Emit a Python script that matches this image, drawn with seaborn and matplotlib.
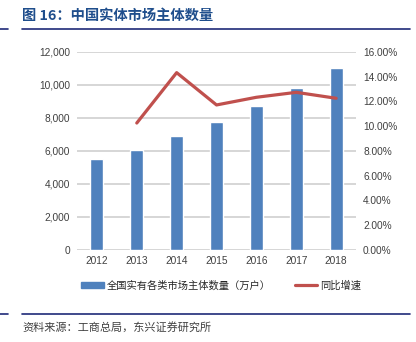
import matplotlib
matplotlib.use("Agg")
import matplotlib.pyplot as plt
import seaborn as sns
import numpy as np
import pandas as pd
from matplotlib.lines import Line2D
from matplotlib.ticker import FuncFormatter, MultipleLocator

years = ["2012", "2013", "2014", "2015", "2016", "2017", "2018"]
entities = [5500, 6060, 6930, 7750, 8700, 9800, 11000]
growth_years = ["2013", "2014", "2015", "2016", "2017", "2018"]
growth = [10.26, 14.33, 11.72, 12.34, 12.74, 12.26]

bar_label = "全国实有各类市场主体数量（万户）"
line_label = "同比增速"
title = "图 16：中国实体市场主体数量"
source = "资料来源：工商总局，东兴证券研究所"

sns.set_theme(style="white")
plt.rcParams['font.family'] = ['Liberation Sans', 'Noto Sans CJK SC', 'DejaVu Sans']

fig = plt.figure(figsize=(4.16, 3.42), dpi=100)
ax = fig.add_axes([0.185, 0.269, 0.671, 0.579])

df = pd.DataFrame({"year": years, "value": entities})
sns.barplot(data=df, x="year", y="value", ax=ax, color="#4F81BD",
            saturation=1, width=0.33, label=bar_label)

ax2 = ax.twinx()
pos = [years.index(y) for y in growth_years]
sns.lineplot(x=pos, y=growth, ax=ax2, color="#C0504D", linewidth=2.3,
             label=line_label, legend=False)

ax.set_ylim(0, 12000)
ax2.set_ylim(0, 16)
ax.set_xlim(-0.5, 6.5)
ax.yaxis.set_major_locator(MultipleLocator(2000))
ax2.yaxis.set_major_locator(MultipleLocator(2))
ax.yaxis.set_major_formatter(FuncFormatter(lambda v, p: f"{int(v):,}"))
ax2.yaxis.set_major_formatter(FuncFormatter(lambda v, p: f"{v:.2f}%"))

ax.grid(axis="y", color="#D0D0D0", linewidth=1.2)
ax.set_axisbelow(True)
for a in (ax, ax2):
    for s in a.spines.values():
        s.set_visible(False)
    a.tick_params(axis="both", length=0, labelsize=7.3, labelcolor="#404040", pad=5)
ax.set_xlabel("")
ax.set_ylabel("")
ax2.set_ylabel("")
ax.tick_params(axis="x", pad=4)
ax2.grid(False)
if ax.get_legend():
    ax.get_legend().remove()

handles = [plt.Rectangle((0, 0), 1, 1, color="#4F81BD"),
           Line2D([0], [0], color="#C0504D", linewidth=2.3)]
fig.legend(handles, [bar_label, line_label], loc="center", bbox_to_anchor=(0.532, 0.166),
           ncol=2, frameon=False, handlelength=2.2, handleheight=0.55,
           columnspacing=2.3, handletextpad=0.3,
           prop={'family': ['Noto Sans CJK SC'], 'size': 7.4})

fig.text(0.053, 0.953, title, fontsize=10.3, fontweight="bold", color="#1F4E8C",
         family=['Noto Sans CJK SC'], va="center", ha="left")
fig.add_artist(Line2D([0.053, 0.985], [0.915, 0.915], color="#1F2A78", linewidth=1.2))
fig.add_artist(Line2D([0.0, 0.02], [0.915, 0.915], color="#1F2A78", linewidth=1.2))
fig.add_artist(Line2D([0.053, 0.985], [0.082, 0.082], color="#1F2A78", linewidth=1.2))
fig.add_artist(Line2D([0.0, 0.02], [0.082, 0.082], color="#1F2A78", linewidth=1.2))
fig.text(0.053, 0.044, source, fontsize=8, color="#404040", style="italic",
         family=['Noto Sans CJK SC'], va="center", ha="left")

fig.savefig("out.png", dpi=100)
